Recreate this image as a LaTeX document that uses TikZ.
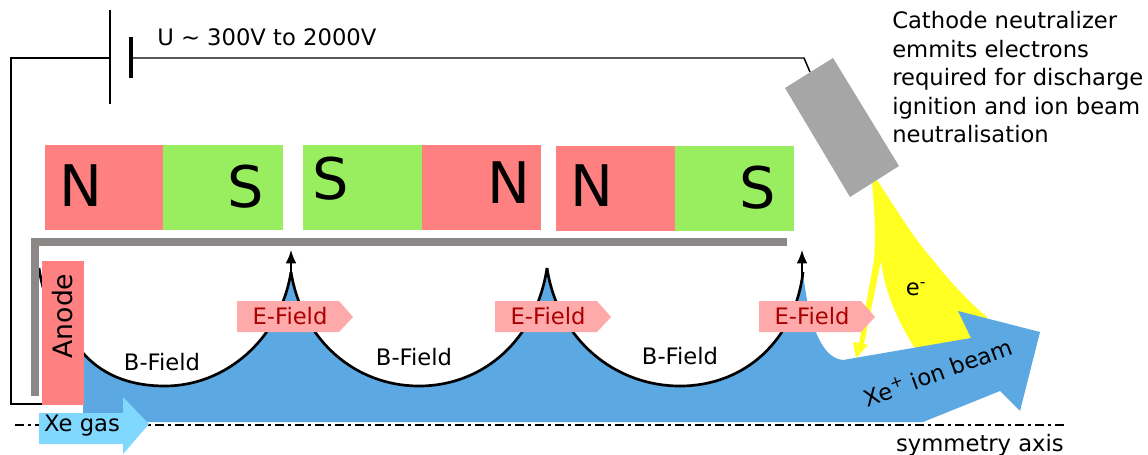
\documentclass[tikz,border=0pt]{standalone}
\usepackage{fontspec}
\setmainfont{DejaVu Sans}
\usepackage{xcolor}
\usetikzlibrary{arrows.meta, calc, positioning}
\definecolor{magnetred}{HTML}{FF8080}
\definecolor{magnetgreen}{HTML}{99EE60}
\definecolor{beamblue}{HTML}{5CA8E2}
\definecolor{gasblue}{HTML}{80D8FF}
\definecolor{fieldpink}{HTML}{FFAAAA}
\definecolor{fieldred}{HTML}{AA0000}
\definecolor{wallgrey}{HTML}{8C8888}
\definecolor{cathodegrey}{HTML}{A6A6A6}
\definecolor{electronyellow}{HTML}{FFFF22}
\tikzset{
  txt/.style={font=\fontsize{17pt}{21.4pt}\selectfont,inner sep=0pt},
  pole/.style={font=\fontsize{43pt}{43pt}\selectfont,inner sep=0pt},
  wire/.style={line width=1.1pt},
  fieldline/.style={line width=2pt},
}
\begin{document}
\begin{tikzpicture}[x=0.75pt,y=-0.75pt]
\useasboundingbox (0,0) rectangle (1148,454);
% electrons leaving the cathode
\fill[electronyellow] (872,183) -- (877,180) .. controls (900,215) and (915,240) .. (933,260)
  .. controls (950,282) and (970,303) .. (987,317) -- (970,345) -- (916,350)
  .. controls (900,325) and (885,295) .. (881,261) -- (864,344) -- (868,345) -- (856,358)
  -- (853,342) -- (859,343) -- (874,260) .. controls (876,230) and (874,205) .. (872,183) -- cycle;
% plasma and ion beam
\fill[beamblue] (83,353) .. controls (105,378) and (135,386) .. (165,386)
  .. controls (225,386) and (280,340) .. (291,272)
  .. controls (302,340) and (355,386) .. (419,386)
  .. controls (483,386) and (536,340) .. (547,268)
  .. controls (558,340) and (615,386) .. (680,386)
  .. controls (745,386) and (795,340) .. (803,272)
  .. controls (806,300) and (815,358) .. (843,360)
  -- (971,338) -- (958,311) -- (1040,332) -- (1020,411) -- (1000,391) -- (923,422) -- (83,422) -- cycle;
% magnetic field lines
\draw[fieldline] (39,268) .. controls (45,310) and (65,335) .. (83,353)
  .. controls (105,378) and (135,386) .. (165,386)
  .. controls (225,386) and (280,340) .. (291,272);
\draw[fieldline] (291,272) .. controls (302,340) and (355,386) .. (419,386)
  .. controls (483,386) and (536,340) .. (547,268);
\draw[fieldline] (547,268) .. controls (558,340) and (615,386) .. (680,386)
  .. controls (745,386) and (795,340) .. (803,272);
\foreach \x in {291,802}
  \draw[wire,-{Latex[length=10pt,width=8pt]}] (\x,275) -- (\x,250);
% magnets
\fill[magnetred] (45,145) rectangle (163,230);
\fill[magnetgreen] (163,145) rectangle (283,230);
\fill[magnetgreen] (303,145) rectangle (422,230);
\fill[magnetred] (422,145) rectangle (541,230);
\fill[magnetred] (556,146) rectangle (675,231);
\fill[magnetgreen] (675,146) rectangle (794,231);
\node[pole] (n1) at (81,186) {N};
\node[pole] (s1) at (246,187) {S};
\node[pole] (s2) at (331,179) {S};
\node[pole] (n2) at (509,183) {N};
\node[pole] (n3) at (592,186) {N};
\node[pole] (s3) at (758,188) {S};
% discharge chamber wall
\draw[wallgrey,line width=6pt] (35,396) -- (35,242) -- (787,242);
% supply circuit
\path coordinate (anodefoot) at (42,404)
      coordinate (plus) at (110,58)
      coordinate (minus) at (131,58)
      coordinate (cathodetop) at (810,72);
\draw[wire] (anodefoot) -- (11,404) -- (11,58) -- (plus);
\draw[wire] (minus) -- (804,58) -- (cathodetop);
\draw[line width=2.2pt] (110,10) -- (110,104);
\draw[line width=2.4pt] (131,37) -- (131,78);
% cathode
\fill[cathodegrey] (785,88) -- (833,58) -- (899,166) -- (850,197) -- cycle;
% symmetry axis
\draw[line width=1.5pt,dash pattern=on 7pt off 3pt on 2pt off 3pt] (15,425) -- (1065,425);
% anode
\fill[magnetred] (42,261) rectangle (84,405);
\node[txt,rotate=90,font=\fontsize{20pt}{24pt}\selectfont] (anode) at (63,316) {Anode};
% gas inlet
\fill[gasblue] (39,413) -- (123,413) -- (123,397) -- (149,424) -- (123,454) -- (123,444) -- (39,444) -- cycle;
\node[txt] (gas) at (82,426) {Xe gas};
% electric field arrows
\foreach \x/\n in {237/a,495/b,759/c}{
  \fill[fieldpink] (\x,301) -- ++(102,0) -- ++(14,16) -- ++(-14,15) -- ++(-102,0) -- cycle;
  \node[txt,fieldred] (efield\n) at (\x+53,316) {E-Field};
}
\node[txt] (bfielda) at (162,362) {B-Field};
\node[txt] (bfieldb) at (414,357) {B-Field};
\node[txt] (bfieldc) at (680,356) {B-Field};
\node[txt] (electron) at (916,289) {e\textsuperscript{-}};
\node[txt,rotate=20] (beam) at (938,372) {Xe\textsuperscript{+} ion beam};
\node[txt,anchor=west] (voltage) at (157,37) {U \textasciitilde{} 300V to 2000V};
\node[txt,anchor=north west,align=left] (cathode) at (892,11) {Cathode neutralizer\\emmits electrons\\required for discharge\\ignition and ion beam\\neutralisation};
\node[txt,anchor=east] (axis) at (1064,445) {symmetry axis};
\end{tikzpicture}
\end{document}
